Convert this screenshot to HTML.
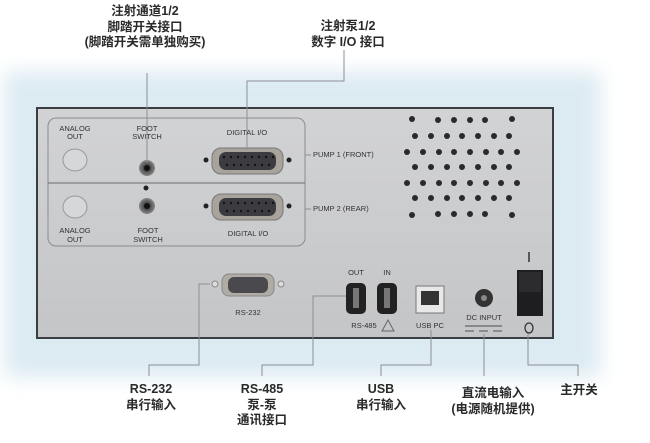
<!DOCTYPE html>
<html><head><meta charset="utf-8"><style>
body{margin:0;width:650px;height:443px;background:#fff;position:relative;overflow:hidden;font-family:"Liberation Sans","Noto Sans CJK SC",sans-serif;}
.lbl{position:absolute;font-size:12.5px;font-weight:bold;color:#2a2a2a;text-align:center;line-height:15.5px;white-space:nowrap;font-family:"Liberation Sans","Noto Sans CJK SC",sans-serif;}
</style></head><body>
<svg width="650" height="443" style="position:absolute;left:0;top:0">
<defs>
<filter id="bl" x="-20%" y="-20%" width="140%" height="140%"><feGaussianBlur stdDeviation="10"/></filter>
<linearGradient id="pg" x1="0" y1="0" x2="0" y2="1"><stop offset="0" stop-color="#d2d3d5"/><stop offset="1" stop-color="#c4c5c7"/></linearGradient>
<radialGradient id="jk"><stop offset="0" stop-color="#222"/><stop offset="0.5" stop-color="#555"/><stop offset="1" stop-color="#888"/></radialGradient>
</defs>
<rect x="5" y="72" width="595" height="305" fill="#dceaf2" filter="url(#bl)"/>
<rect x="37" y="108" width="516" height="230" fill="url(#pg)" stroke="#3a3d42" stroke-width="2"/>
<rect x="48" y="118" width="257" height="128" rx="8" fill="none" stroke="#8a8c90" stroke-width="1"/>
<line x1="48" y1="183" x2="305" y2="183" stroke="#6a6c70" stroke-width="1"/>
<!-- analog -->
<ellipse cx="75" cy="160" rx="12" ry="11" fill="#d6d7d9" stroke="#999" /><ellipse cx="75" cy="207" rx="12" ry="11" fill="#d6d7d9" stroke="#999"/>
<!-- foot jacks -->
<circle cx="147" cy="168" r="8" fill="url(#jk)"/><circle cx="147" cy="168" r="3" fill="#111"/>
<circle cx="147" cy="206" r="8" fill="url(#jk)"/><circle cx="147" cy="206" r="3" fill="#111"/>
<circle cx="146" cy="188" r="2.5" fill="#222"/>
<!-- DB15 -->
<g id="db"><rect x="212" y="148" width="71" height="26" rx="9" fill="#a8a49c" stroke="#777"/><rect x="219" y="152" width="57" height="18" rx="7" fill="#3c3c40"/>
<circle cx="206" cy="160" r="2.5" fill="#222"/><circle cx="289" cy="160" r="2.5" fill="#222"/>
<g fill="#111"><circle cx="224" cy="157" r="1.2"/><circle cx="231" cy="157" r="1.2"/><circle cx="238" cy="157" r="1.2"/><circle cx="245" cy="157" r="1.2"/><circle cx="252" cy="157" r="1.2"/><circle cx="259" cy="157" r="1.2"/><circle cx="266" cy="157" r="1.2"/><circle cx="273" cy="157" r="1.2"/>
<circle cx="227" cy="165" r="1.2"/><circle cx="234" cy="165" r="1.2"/><circle cx="241" cy="165" r="1.2"/><circle cx="248" cy="165" r="1.2"/><circle cx="255" cy="165" r="1.2"/><circle cx="262" cy="165" r="1.2"/><circle cx="269" cy="165" r="1.2"/></g></g>
<use href="#db" y="46"/>
<!-- vents -->
<g fill="#2a2a2e">
<circle cx="412" cy="119" r="3"/><circle cx="438" cy="120" r="3"/><circle cx="454" cy="120" r="3"/><circle cx="470" cy="120" r="3"/><circle cx="485" cy="120" r="3"/><circle cx="512" cy="119" r="3"/>
<circle cx="415" cy="136" r="3"/><circle cx="431" cy="136" r="3"/><circle cx="447" cy="136" r="3"/><circle cx="462" cy="136" r="3"/><circle cx="478" cy="136" r="3"/><circle cx="494" cy="136" r="3"/><circle cx="509" cy="136" r="3"/>
<circle cx="407" cy="152" r="3"/><circle cx="423" cy="152" r="3"/><circle cx="439" cy="152" r="3"/><circle cx="454" cy="152" r="3"/><circle cx="470" cy="152" r="3"/><circle cx="486" cy="152" r="3"/><circle cx="501" cy="152" r="3"/><circle cx="517" cy="152" r="3"/>
<circle cx="415" cy="167" r="3"/><circle cx="431" cy="167" r="3"/><circle cx="447" cy="167" r="3"/><circle cx="462" cy="167" r="3"/><circle cx="478" cy="167" r="3"/><circle cx="494" cy="167" r="3"/><circle cx="509" cy="167" r="3"/>
<circle cx="407" cy="183" r="3"/><circle cx="423" cy="183" r="3"/><circle cx="439" cy="183" r="3"/><circle cx="454" cy="183" r="3"/><circle cx="470" cy="183" r="3"/><circle cx="486" cy="183" r="3"/><circle cx="501" cy="183" r="3"/><circle cx="517" cy="183" r="3"/>
<circle cx="415" cy="198" r="3"/><circle cx="431" cy="198" r="3"/><circle cx="447" cy="198" r="3"/><circle cx="462" cy="198" r="3"/><circle cx="478" cy="198" r="3"/><circle cx="494" cy="198" r="3"/><circle cx="509" cy="198" r="3"/>
<circle cx="412" cy="215" r="3"/><circle cx="438" cy="214" r="3"/><circle cx="454" cy="214" r="3"/><circle cx="470" cy="214" r="3"/><circle cx="485" cy="214" r="3"/><circle cx="512" cy="215" r="3"/>
</g>
<!-- RS232 -->
<rect x="222" y="274" width="52" height="22" rx="7" fill="#b0aca4" stroke="#888"/><rect x="228" y="277" width="40" height="16" rx="6" fill="#4a4a4e"/>
<circle cx="215" cy="284" r="3" fill="#ddd" stroke="#888"/><circle cx="281" cy="284" r="3" fill="#ddd" stroke="#888"/>
<!-- RS485 -->
<rect x="346" y="283" width="20" height="31" rx="5" fill="#222"/><rect x="353" y="288" width="6" height="20" fill="#777"/>
<rect x="377" y="283" width="20" height="31" rx="5" fill="#222"/><rect x="384" y="288" width="6" height="20" fill="#777"/>
<polygon points="388,320 382,331 394,331" fill="none" stroke="#666"/>
<!-- USB -->
<rect x="416" y="286" width="28" height="27" fill="#e8e8e8" stroke="#777"/><rect x="421" y="291" width="18" height="14" fill="#333"/>
<!-- DC -->
<circle cx="484" cy="298" r="9" fill="#333"/><circle cx="484" cy="298" r="3" fill="#888"/>
<g stroke="#666" stroke-width="1.2"><line x1="465" y1="326" x2="502" y2="326"/><line x1="465" y1="331" x2="474" y2="331"/><line x1="479" y1="331" x2="488" y2="331"/><line x1="493" y1="331" x2="502" y2="331"/></g>
<!-- switch -->
<rect x="517" y="270" width="26" height="46" fill="#1e1e20"/><rect x="519" y="272" width="22" height="20" fill="#2c2c2e"/>
<line x1="529" y1="252" x2="529" y2="262" stroke="#333" stroke-width="1.5"/>
<ellipse cx="529" cy="328" rx="4" ry="5" fill="none" stroke="#333" stroke-width="1.3"/>
<!-- leaders -->
<g stroke="#8c8f93" stroke-width="1" fill="none">
<polyline points="147,73 147,162"/>
<polyline points="344,50 344,81 247,81 247,150"/>
<polyline points="210,284 199,284 199,365 149,365 149,376"/>
<polyline points="346,296 313,296 313,365 262,365 262,376"/>
<polyline points="431,330 431,365 381,365 381,376"/>
<polyline points="484,334 484,376"/>
<polyline points="528,334 528,365 578,365 578,376"/>
<line x1="305" y1="155" x2="311" y2="155"/><line x1="305" y1="209" x2="311" y2="209"/>
</g>
<g font-family="Liberation Sans, sans-serif" font-size="7.5" fill="#333" text-anchor="middle">
<text x="75" y="131">ANALOG</text><text x="75" y="139">OUT</text>
<text x="147" y="131">FOOT</text><text x="147" y="139">SWITCH</text>
<text x="247" y="135">DIGITAL I/O</text>
<text x="75" y="233">ANALOG</text><text x="75" y="242">OUT</text>
<text x="148" y="233">FOOT</text><text x="148" y="242">SWITCH</text>
<text x="248" y="236">DIGITAL I/O</text>
<text x="248" y="315">RS-232</text>
<text x="356" y="275">OUT</text><text x="387" y="275">IN</text>
<text x="364" y="328">RS-485</text><text x="430" y="328">USB PC</text>
<text x="484" y="320">DC INPUT</text>
<text x="313" y="157" text-anchor="start">PUMP 1 (FRONT)</text>
<text x="313" y="211" text-anchor="start">PUMP 2 (REAR)</text>
</g>
</svg>
<div class="lbl" style="left:75px;top:4px;width:140px">注射通道1/2<br>脚踏开关接口<br>(脚踏开关需单独购买)</div>
<div class="lbl" style="left:288px;top:19px;width:120px">注射泵1/2<br>数字 I/O 接口</div>
<div class="lbl" style="left:101px;top:382px;width:100px">RS-232<br>串行输入</div>
<div class="lbl" style="left:212px;top:382px;width:100px">RS-485<br>泵-泵<br>通讯接口</div>
<div class="lbl" style="left:331px;top:382px;width:100px">USB<br>串行输入</div>
<div class="lbl" style="left:438px;top:386px;width:110px">直流电输入<br>(电源随机提供)</div>
<div class="lbl" style="left:549px;top:383px;width:60px">主开关</div>
</body></html>
